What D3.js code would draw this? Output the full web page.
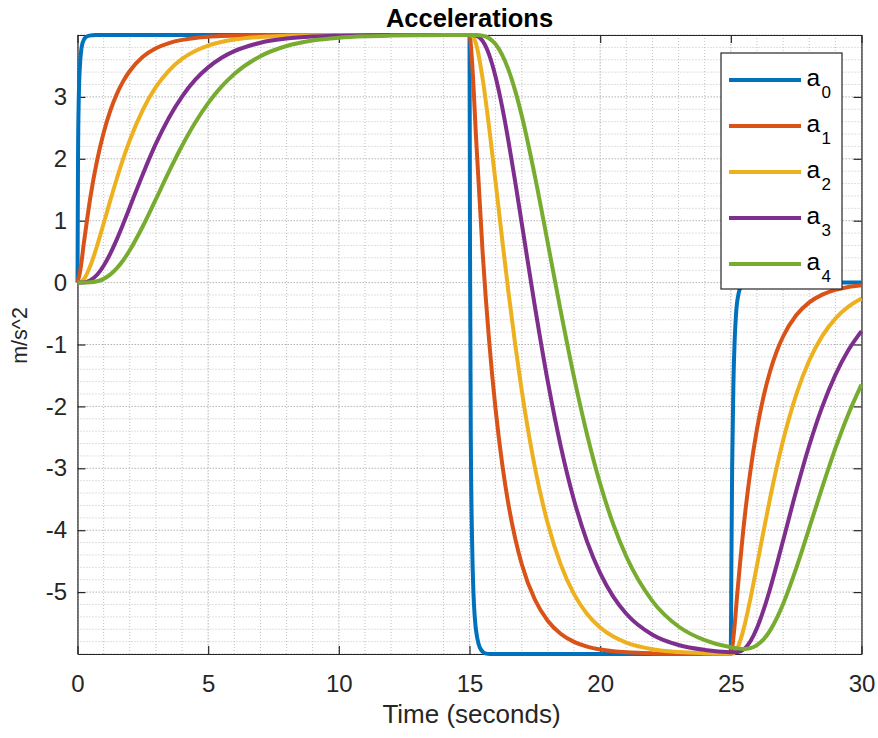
<!DOCTYPE html>
<html>
<head>
<meta charset="utf-8">
<script src="https://cdn.jsdelivr.net/npm/d3@7"></script>
<style>
  html, body { margin: 0; padding: 0; background: #ffffff; }
  svg { display: block; font-family: "Liberation Sans", Arial, Helvetica, sans-serif; }
</style>
</head>
<body>
<svg id="chart" width="878" height="738"></svg>
<script>
// ---- data -------------------------------------------------------------
// time samples for the leading signal a0 (sharp transitions)
const time0 = [0, 0.02, 0.05, 0.1, 0.15, 0.2, 0.3, 0.45, 0.7,
  15, 15.02, 15.05, 15.1, 15.15, 15.2, 15.3, 15.4, 15.5, 15.6, 15.8,
  25, 25.02, 25.05, 25.1, 25.15, 25.2, 25.3, 25.4, 25.5, 25.7, 30];
const accel0 = [0, 2.00, 3.00, 3.55, 3.78, 3.88, 3.96, 3.99, 4.00,
  4.00, 0.50, -2.50, -4.20, -5.00, -5.40, -5.75, -5.90, -5.96, -5.99, -6.00,
  -6.00, -4.60, -3.00, -1.60, -0.90, -0.50, -0.17, -0.06, -0.02, 0, 0];

// shared time samples for the following signals a1..a4
const time = [0, 0.1, 0.25, 0.5, 0.75, 1, 1.25, 1.5, 1.75, 2, 2.5, 3, 3.5, 4, 4.5,
  5, 5.5, 6, 7, 8, 9, 10, 11, 12, 13, 14, 15, 15.1, 15.25, 15.5, 15.75, 16, 16.25,
  16.5, 16.75, 17, 17.5, 18, 18.5, 19, 19.5, 20, 20.5, 21, 22, 23, 24, 25, 25.1,
  25.25, 25.5, 25.75, 26, 26.25, 26.5, 26.75, 27, 27.5, 28, 28.5, 29, 29.5, 30];

const accel1 = [0, 0.18, 0.659, 1.398, 1.974, 2.422, 2.771, 3.043, 3.255, 3.419, 3.648, 3.786, 3.870, 3.921, 3.952,
  3.971, 3.982, 3.989, 3.996, 3.999, 4.0, 4.0, 4.0, 4.0, 4.0, 4.0, 4.0, 3.549, 2.353, 0.505, -0.934, -2.055, -2.927,
  -3.607, -4.136, -4.549, -5.120, -5.466, -5.676, -5.804, -5.881, -5.928, -5.956, -5.973, -5.990, -5.996, -5.999, -6.0, -5.729,
  -5.011, -3.903, -3.040, -2.367, -1.844, -1.436, -1.118, -0.871, -0.528, -0.320, -0.194, -0.118, -0.071, -0.043];

const accel2 = [0, 0.005, 0.058, 0.279, 0.596, 0.954, 1.321, 1.674, 2.002, 2.299, 2.792, 3.161, 3.426, 3.613, 3.741,
  3.829, 3.887, 3.926, 3.969, 3.987, 3.995, 3.998, 3.999, 4.0, 4.0, 4.0, 4.0, 3.990, 3.856, 3.302, 2.511, 1.615, 0.699,
  -0.185, -1.005, -1.747, -2.980, -3.901, -4.565, -5.032, -5.353, -5.571, -5.718, -5.816, -5.922, -5.968, -5.987, -5.995, -5.990,
  -5.910, -5.578, -5.104, -4.567, -4.018, -3.488, -2.996, -2.551, -1.812, -1.259, -0.861, -0.581, -0.388, -0.257];

const accel3 = [0, 0.0, 0.003, 0.039, 0.127, 0.272, 0.465, 0.695, 0.950, 1.217, 1.752, 2.244, 2.664, 3.006, 3.274,
  3.477, 3.629, 3.739, 3.875, 3.942, 3.974, 3.988, 3.995, 3.998, 3.999, 4.0, 4.0, 4.0, 3.992, 3.904, 3.683, 3.321, 2.838,
  2.262, 1.625, 0.956, -0.381, -1.609, -2.660, -3.515, -4.184, -4.693, -5.072, -5.349, -5.688, -5.855, -5.934, -5.971, -5.972,
  -5.971, -5.923, -5.794, -5.580, -5.292, -4.949, -4.568, -4.168, -3.368, -2.632, -2.003, -1.490, -1.090, -0.784];

const accel4 = [0, 0.0, 0.0, 0.004, 0.021, 0.060, 0.128, 0.229, 0.361, 0.522, 0.910, 1.348, 1.793, 2.211, 2.583,
  2.900, 3.161, 3.370, 3.658, 3.822, 3.911, 3.956, 3.979, 3.990, 3.996, 3.998, 3.999, 4.0, 4.0, 3.990, 3.948, 3.850, 3.680,
  3.428, 3.098, 2.695, 1.725, 0.630, -0.481, -1.527, -2.457, -3.250, -3.903, -4.425, -5.145, -5.556, -5.777, -5.891, -5.897,
  -5.909, -5.919, -5.906, -5.858, -5.765, -5.622, -5.429, -5.193, -4.618, -3.967, -3.304, -2.679, -2.122, -1.648];

const seriesNames = ["0", "1", "2", "3", "4"];
const seriesColors = ["#0072BD", "#D95319", "#EDB120", "#7E2F8E", "#77AC30"];
const xTicks = [0, 5, 10, 15, 20, 25, 30];
const yTicks = [-5, -4, -3, -2, -1, 0, 1, 2, 3];
const titleText = "Accelerations";
const xLabel = "Time (seconds)";
const yLabel = "m/s^2";

// ---- layout -----------------------------------------------------------
const svg = d3.select("#chart");
const plot = { left: 77.5, right: 861.5, top: 35, bottom: 654 };
const axisColor = "#262626";

const x = d3.scaleLinear().domain([0, 30]).range([plot.left, plot.right]);
const y = d3.scaleLinear().domain([-6, 4]).range([plot.bottom, plot.top]);

// ---- grid -------------------------------------------------------------
const grid = svg.append("g");
const xMinor = d3.range(0, 30.001, 1).filter(v => v % 5 !== 0);
const yMinor = d3.range(-6, 4.001, 0.2).map(v => +v.toFixed(1)).filter(v => Math.abs(v - Math.round(v)) > 1e-6);
const yMajorGrid = d3.range(-6, 4.001, 1);

grid.selectAll("line.xminor").data(xMinor).join("line")
  .attr("x1", d => x(d)).attr("x2", d => x(d))
  .attr("y1", plot.top).attr("y2", plot.bottom)
  .attr("stroke", "#c0c0c0").attr("stroke-width", 1).attr("stroke-dasharray", "1,2");
grid.selectAll("line.yminor").data(yMinor).join("line")
  .attr("y1", d => y(d)).attr("y2", d => y(d))
  .attr("x1", plot.left).attr("x2", plot.right)
  .attr("stroke", "#c0c0c0").attr("stroke-width", 1).attr("stroke-dasharray", "1,2");
grid.selectAll("line.xmajor").data(xTicks).join("line")
  .attr("x1", d => x(d)).attr("x2", d => x(d))
  .attr("y1", plot.top).attr("y2", plot.bottom)
  .attr("stroke", "#b4b4b4").attr("stroke-width", 1).attr("stroke-dasharray", "1.5,1.5");
grid.selectAll("line.ymajor").data(yMajorGrid).join("line")
  .attr("y1", d => y(d)).attr("y2", d => y(d))
  .attr("x1", plot.left).attr("x2", plot.right)
  .attr("stroke", "#b4b4b4").attr("stroke-width", 1).attr("stroke-dasharray", "1.5,1.5");

// ---- axes (box with inward ticks on all sides) -------------------------
const tickFont = 24;
const plainNumber = d => String(d);   // hyphen-minus, as in the source plot
function styleAxis(g) {
  g.select(".domain").attr("stroke", axisColor).attr("stroke-width", 1.2);
  g.selectAll(".tick line").attr("stroke", axisColor).attr("stroke-width", 1.2);
  g.selectAll(".tick text").attr("fill", axisColor).attr("font-size", tickFont)
    .attr("font-family", "'Liberation Sans', Arial, Helvetica, sans-serif");
}
svg.append("g").attr("transform", `translate(0,${plot.bottom})`)
  .call(d3.axisBottom(x).tickValues(xTicks).tickSizeInner(-8).tickSizeOuter(0).tickPadding(21).tickFormat(plainNumber))
  .call(styleAxis);
svg.append("g").attr("transform", `translate(0,${plot.top})`)
  .call(d3.axisTop(x).tickValues(xTicks).tickSizeInner(-8).tickSizeOuter(0).tickFormat(""))
  .call(styleAxis);
svg.append("g").attr("transform", `translate(${plot.left},0)`)
  .call(d3.axisLeft(y).tickValues(yTicks).tickSizeInner(-8).tickSizeOuter(0).tickPadding(10.5).tickFormat(plainNumber))
  .call(styleAxis);
svg.append("g").attr("transform", `translate(${plot.right},0)`)
  .call(d3.axisRight(y).tickValues(yTicks).tickSizeInner(-8).tickSizeOuter(0).tickFormat(""))
  .call(styleAxis);

// ---- curves -----------------------------------------------------------
const line = d3.line()
  .x(d => x(d[0]))
  .y(d => y(d[1]))
  .curve(d3.curveMonotoneX);

const series = [
  d3.zip(time0, accel0),
  d3.zip(time, accel1),
  d3.zip(time, accel2),
  d3.zip(time, accel3),
  d3.zip(time, accel4)
];

svg.append("g").selectAll("path").data(series).join("path")
  .attr("d", line)
  .attr("fill", "none")
  .attr("stroke", (d, i) => seriesColors[i])
  .attr("stroke-width", 4)
  .attr("stroke-linejoin", "round");

// ---- title & labels ---------------------------------------------------
svg.append("text")
  .attr("x", (plot.left + plot.right) / 2).attr("y", 26.5)
  .attr("text-anchor", "middle")
  .attr("font-size", 25.5).attr("font-weight", "bold").attr("fill", "#000000")
  .text(titleText);

svg.append("text")
  .attr("x", (plot.left + plot.right) / 2 + 2).attr("y", 723)
  .attr("text-anchor", "middle")
  .attr("font-size", 26).attr("fill", axisColor)
  .text(xLabel);

svg.append("text")
  .attr("transform", "translate(26.5,335.5) rotate(-90)")
  .attr("text-anchor", "middle")
  .attr("font-size", 21.5).attr("fill", axisColor)
  .text(yLabel);

// ---- legend -----------------------------------------------------------
const legend = svg.append("g");
legend.append("rect")
  .attr("x", 721).attr("y", 53).attr("width", 121).attr("height", 236)
  .attr("fill", "#ffffff").attr("stroke", axisColor).attr("stroke-width", 1.2);

const items = legend.selectAll("g.item").data(seriesNames).join("g")
  .attr("transform", (d, i) => `translate(0,${80 + i * 46})`);
items.append("line")
  .attr("x1", 729).attr("x2", 801).attr("y1", 0).attr("y2", 0)
  .attr("stroke", (d, i) => seriesColors[i]).attr("stroke-width", 4);
items.append("text")
  .attr("x", 806.5).attr("y", 5.5)
  .attr("font-size", 24.5).attr("fill", "#000000")
  .text("a");
items.append("text")
  .attr("x", 821.5).attr("y", 17.5)
  .attr("font-size", 17).attr("fill", "#000000")
  .text(d => d);
</script>
</body>
</html>
